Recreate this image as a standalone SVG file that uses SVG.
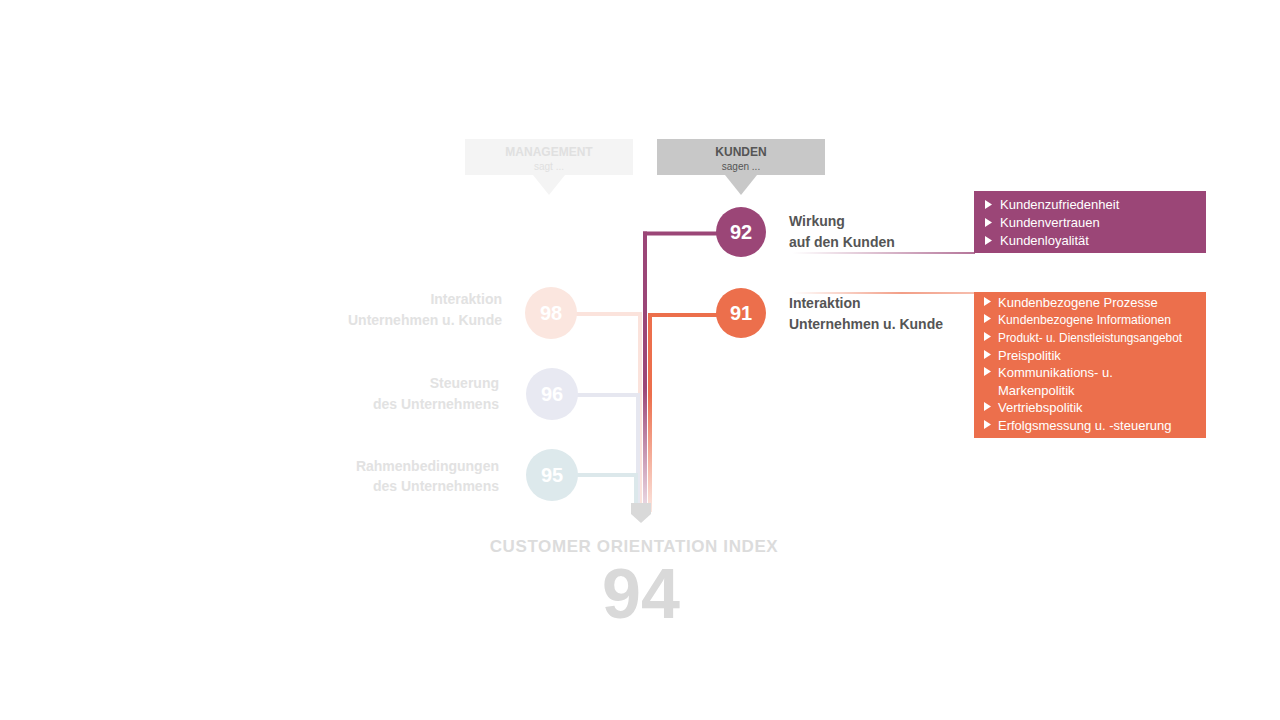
<svg xmlns="http://www.w3.org/2000/svg" width="1280" height="720" viewBox="0 0 1280 720">
<style>
text{font-family:"Liberation Sans",Arial,sans-serif}
.lbl{font-size:14px;font-weight:bold;fill:#555}
.flbl{font-size:14px;font-weight:bold;fill:#e2e2e2}
.num{font-size:20px;font-weight:bold;fill:#fff}
.item{font-size:13px;fill:#fff}
.bul{fill:#fff}
</style>
<defs>
<linearGradient id="gPurV" x1="0" y1="233" x2="0" y2="515" gradientUnits="userSpaceOnUse">
<stop offset="0" stop-color="#9b4677"/><stop offset="0.55" stop-color="#9b4677"/><stop offset="1" stop-color="#9b4677" stop-opacity="0.15"/>
</linearGradient>
<linearGradient id="gOrV" x1="0" y1="315" x2="0" y2="515" gradientUnits="userSpaceOnUse">
<stop offset="0" stop-color="#ec6f4c"/><stop offset="0.4" stop-color="#ec6f4c"/><stop offset="1" stop-color="#ec6f4c" stop-opacity="0.15"/>
</linearGradient>
<linearGradient id="gPurH" x1="792" y1="0" x2="975" y2="0" gradientUnits="userSpaceOnUse">
<stop offset="0" stop-color="#9b4677" stop-opacity="0"/><stop offset="1" stop-color="#9b4677"/>
</linearGradient>
<linearGradient id="gOrH" x1="792" y1="0" x2="975" y2="0" gradientUnits="userSpaceOnUse">
<stop offset="0" stop-color="#ec6f4c" stop-opacity="0"/><stop offset="0.6" stop-color="#ec6f4c" stop-opacity="0.9"/><stop offset="1" stop-color="#ec6f4c" stop-opacity="0.6"/>
</linearGradient>
</defs>

<g id="connectors" fill="none">
<polyline points="551,314 640,314 640,512" stroke="#fbe3dc" stroke-width="4"/>
<polyline points="552,395 638,395 638,512" stroke="#e6e7f0" stroke-width="4"/>
<polyline points="552,475 636,475 636,512" stroke="#dce8eb" stroke-width="4"/>
<line x1="741" y1="233.5" x2="643" y2="233.5" stroke="#9b4677" stroke-width="4"/>
<line x1="645" y1="231.5" x2="645" y2="512" stroke="url(#gPurV)" stroke-width="4"/>
<line x1="741" y1="315" x2="648" y2="315" stroke="#ec6f4c" stroke-width="4"/>
<line x1="650" y1="313" x2="650" y2="512" stroke="url(#gOrV)" stroke-width="4"/>
<polygon points="631,503 651,503 651,514 641,523 631,514" fill="#d9d9d9"/>
<line x1="792" y1="253" x2="975" y2="253" stroke="url(#gPurH)" stroke-width="1.5"/>
<line x1="792" y1="293" x2="975" y2="293" stroke="url(#gOrH)" stroke-width="1.5"/>
</g>

<g id="callout-management">
<rect x="465" y="139" width="168" height="36" fill="#f4f4f4"/>
<polygon points="533,175 565,175 549,195" fill="#f4f4f4"/>
<text x="549" y="156" text-anchor="middle" font-size="12" font-weight="bold" fill="#e0e0e0">MANAGEMENT</text>
<text x="549" y="170" text-anchor="middle" font-size="10" fill="#e0e0e0">sagt ...</text>
</g>

<g id="callout-kunden">
<rect x="657" y="139" width="168" height="36" fill="#c8c8c8"/>
<polygon points="725,175 757,175 741,195" fill="#c8c8c8"/>
<text x="741" y="156" text-anchor="middle" font-size="12" font-weight="bold" fill="#555">KUNDEN</text>
<text x="741" y="170" text-anchor="middle" font-size="10" fill="#555">sagen ...</text>
</g>

<g id="node-92">
<circle cx="741" cy="232" r="25" fill="#9b4677"/>
<text class="num" x="741" y="239" text-anchor="middle">92</text>
<text class="lbl" x="789" y="226">Wirkung</text>
<text class="lbl" x="789" y="247">auf den Kunden</text>
</g>

<g id="node-91">
<circle cx="741" cy="313" r="25" fill="#ec6f4c"/>
<text class="num" x="741" y="320" text-anchor="middle">91</text>
<text class="lbl" x="789" y="308">Interaktion</text>
<text class="lbl" x="789" y="329">Unternehmen u. Kunde</text>
</g>

<g id="box-wirkung">
<rect x="974" y="191" width="232" height="62" fill="#9b4677"/>
<polygon class="bul" points="985,200 985,209 992,204.5"/>
<text class="item" x="1000" y="209">Kundenzufriedenheit</text>
<polygon class="bul" points="985,218 985,227 992,222.5"/>
<text class="item" x="1000" y="227">Kundenvertrauen</text>
<polygon class="bul" points="985,236 985,245 992,240.5"/>
<text class="item" x="1000" y="245">Kundenloyalität</text>
</g>

<g id="box-interaktion">
<rect x="974" y="292" width="232" height="146" fill="#ec6f4c"/>
<polygon class="bul" points="984,297 984,306 991,301.5"/>
<text class="item" x="998" y="307">Kundenbezogene Prozesse</text>
<polygon class="bul" points="984,314 984,323 991,318.5"/>
<text class="item" x="998" y="324" textLength="173" lengthAdjust="spacingAndGlyphs">Kundenbezogene Informationen</text>
<polygon class="bul" points="984,332 984,341 991,336.5"/>
<text class="item" x="998" y="342" textLength="184" lengthAdjust="spacingAndGlyphs">Produkt- u. Dienstleistungsangebot</text>
<polygon class="bul" points="984,350 984,359 991,354.5"/>
<text class="item" x="998" y="360">Preispolitik</text>
<polygon class="bul" points="984,367 984,376 991,371.5"/>
<text class="item" x="998" y="377">Kommunikations- u.</text>
<text class="item" x="998" y="395">Markenpolitik</text>
<polygon class="bul" points="984,402 984,411 991,406.5"/>
<text class="item" x="998" y="412">Vertriebspolitik</text>
<polygon class="bul" points="984,420 984,429 991,424.5"/>
<text class="item" x="998" y="430">Erfolgsmessung u. -steuerung</text>
</g>

<g id="node-98">
<circle cx="551" cy="313" r="26" fill="#fbe6df"/>
<text class="num" x="551" y="320" text-anchor="middle">98</text>
<text class="flbl" x="502" y="304" text-anchor="end">Interaktion</text>
<text class="flbl" x="502" y="325" text-anchor="end">Unternehmen u. Kunde</text>
</g>

<g id="node-96">
<circle cx="552" cy="394" r="26" fill="#e8e9f2"/>
<text class="num" x="552" y="401" text-anchor="middle">96</text>
<text class="flbl" x="499" y="388" text-anchor="end">Steuerung</text>
<text class="flbl" x="499" y="409" text-anchor="end">des Unternehmens</text>
</g>

<g id="node-95">
<circle cx="552" cy="475" r="26" fill="#dde9ec"/>
<text class="num" x="552" y="482" text-anchor="middle">95</text>
<text class="flbl" x="499" y="471" text-anchor="end">Rahmenbedingungen</text>
<text class="flbl" x="499" y="491" text-anchor="end">des Unternehmens</text>
</g>

<g id="index">
<text x="634" y="552" text-anchor="middle" font-size="17" font-weight="bold" letter-spacing="0.6" fill="#dcdcdc">CUSTOMER ORIENTATION INDEX</text>
<text x="641" y="618" text-anchor="middle" font-size="70" font-weight="bold" fill="#d9d9d9">94</text>
</g>
</svg>
